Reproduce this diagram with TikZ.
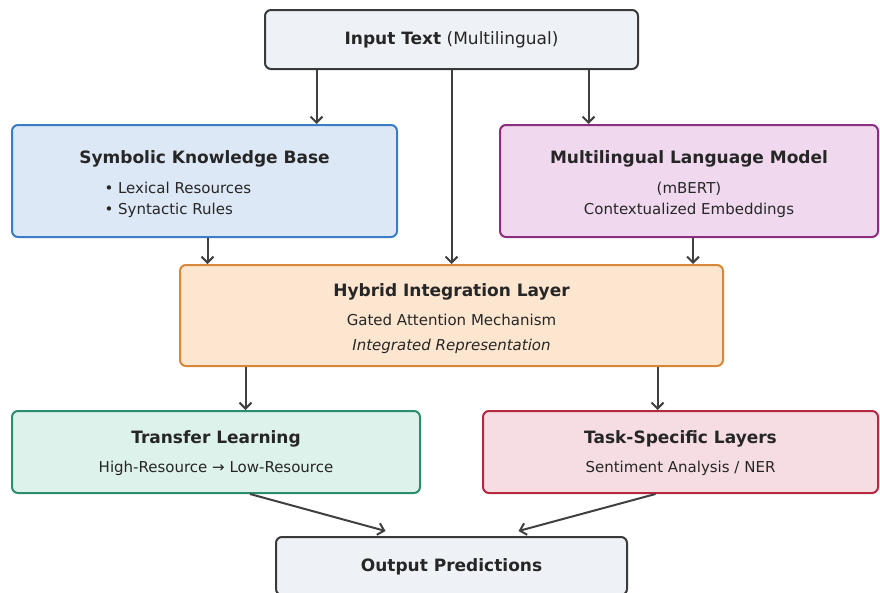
\documentclass[tikz,border=0pt]{standalone}
\usepackage{fontspec}
\setmainfont{DejaVu Sans}
\usetikzlibrary{arrows.meta, positioning}
\definecolor{inputfill}{HTML}{EEF2F6}
\definecolor{inputdraw}{HTML}{3A3A3A}
\definecolor{symfill}{HTML}{DDE8F6}
\definecolor{symdraw}{HTML}{3B7DC4}
\definecolor{mlmfill}{HTML}{F0D9EF}
\definecolor{mlmdraw}{HTML}{8E2C7E}
\definecolor{hybfill}{HTML}{FDE6CF}
\definecolor{hybdraw}{HTML}{D6873A}
\definecolor{trfill}{HTML}{DEF2EC}
\definecolor{trdraw}{HTML}{2B8C6F}
\definecolor{taskfill}{HTML}{F6DDE4}
\definecolor{taskdraw}{HTML}{B5283D}
\definecolor{arrowgray}{HTML}{404040}
\newcommand{\boxtitle}[1]{{\fontsize{17}{20}\selectfont\bfseries #1}}
\newcommand{\toptitle}[1]{\rule{0pt}{19pt}\boxtitle{#1}}

\begin{document}
\begin{tikzpicture}[x=1pt, y=-1pt,
    layerbox/.style={draw, line width=2pt, rounded corners=6pt, align=center,
        inner sep=0pt, text=black!85, font=\fontsize{15}{21}\selectfont},
    flow/.style={-{Straight Barb[length=6pt,width=12pt]}, line width=2pt, draw=arrowgray}]
    \useasboundingbox (0,0) rectangle (880,592);
    % boxes
    \node[layerbox, draw=inputdraw, fill=inputfill, minimum width=373pt, minimum height=59pt]
        (input) at (451.5,39.5) {\fontsize{17}{20}\selectfont\textbf{Input Text} (Multilingual)};
    \node[layerbox, draw=symdraw, fill=symfill, minimum width=385pt, minimum height=112pt]
        (symbolic) at (204.5,181) {\toptitle{Symbolic Knowledge Base}\\[9pt]
        \makebox[200pt][l]{• Lexical Resources}\\
        \makebox[200pt][l]{• Syntactic Rules}};
    \node[layerbox, draw=mlmdraw, fill=mlmfill, minimum width=378pt, minimum height=112pt]
        (mlm) at (689,181) {\toptitle{Multilingual Language Model}\\[9pt]
        (mBERT)\\ Contextualized Embeddings};
    \node[layerbox, draw=hybdraw, fill=hybfill, minimum width=543pt, minimum height=101pt]
        (hybrid) at (451.5,315.5) {\toptitle{Hybrid Integration Layer}\\[8pt]
        Gated Attention Mechanism\\[4pt] \textit{Integrated Representation}};
    \node[layerbox, draw=trdraw, fill=trfill, minimum width=408pt, minimum height=82pt]
        (transfer) at (216,452) {\rule{0pt}{15pt}\boxtitle{Transfer Learning}\\[8pt]
        High-Resource → Low-Resource};
    \node[layerbox, draw=taskdraw, fill=taskfill, minimum width=395pt, minimum height=82pt]
        (task) at (680.5,452) {\rule{0pt}{15pt}\boxtitle{Task-Specific Layers}\\[8pt]
        Sentiment Analysis / NER};
    \node[layerbox, draw=inputdraw, fill=inputfill, minimum width=351pt, minimum height=58pt]
        (output) at (451.5,566) {\rule{0pt}{14pt}\boxtitle{Output Predictions}};
    % connectors
    \draw[flow] ([xshift=-135pt]input.south) -- ([xshift=-135pt]input.south |- symbolic.north);
    \draw[flow] (input.south) -- (hybrid.north);
    \draw[flow] ([xshift=137pt]input.south) -- ([xshift=137pt]input.south |- mlm.north);
    \draw[flow] ([xshift=3pt]symbolic.south) -- ([xshift=3pt]symbolic.south |- hybrid.north);
    \draw[flow] ([xshift=4pt]mlm.south) -- ([xshift=4pt]mlm.south |- hybrid.north);
    \draw[flow] ([xshift=-206pt]hybrid.south) -- ([xshift=-206pt]hybrid.south |- transfer.north);
    \draw[flow] ([xshift=206pt]hybrid.south) -- ([xshift=206pt]hybrid.south |- task.north);
    \draw[flow] ([xshift=34pt]transfer.south) -- ([xshift=-66pt,yshift=5pt]output.north);
    \draw[flow] ([xshift=-25pt]task.south) -- ([xshift=67pt,yshift=5pt]output.north);
\end{tikzpicture}
\end{document}
